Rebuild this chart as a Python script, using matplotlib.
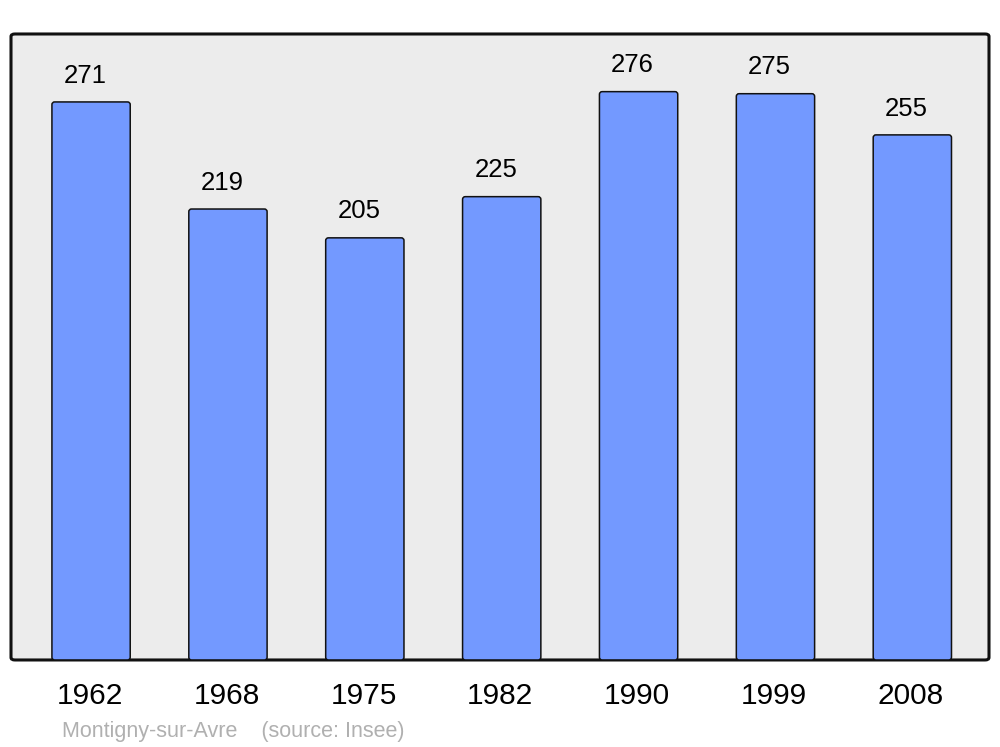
import matplotlib.pyplot as plt
from matplotlib.patches import FancyBboxPatch

years = ["1962", "1968", "1975", "1982", "1990", "1999", "2008"]
population = [271, 219, 205, 225, 276, 275, 255]

plt.rcParams['font.family'] = ['Liberation Sans', 'DejaVu Sans']

fig = plt.figure(figsize=(10, 7.47), dpi=100)
ax = fig.add_axes([0.011, 0.1165, 0.978, 0.838])
ax.set_xlim(-0.585, 6.56)
ax.set_ylim(0, 304)
ax.axis('off')

# rounded frame with light grey background
frame = FancyBboxPatch((0, 0), 1, 1, boxstyle="round,pad=0,rounding_size=0.004",
                       transform=ax.transAxes, facecolor='#ececec',
                       edgecolor='#111111', linewidth=2.2, zorder=0, clip_on=False)
ax.add_patch(frame)

x = range(len(years))
bars = ax.bar(x, population, width=0.572, color='#7399ff', edgecolor='#111111',
              linewidth=1.1, zorder=2)
# swap plain rectangles for slightly rounded ones
for b in bars:
    rb = FancyBboxPatch((b.get_x(), b.get_y()), b.get_width(), b.get_height(),
                        boxstyle="round,pad=0,rounding_size=0.02", mutation_aspect=66,
                        facecolor='#7399ff', edgecolor='#111111', linewidth=1.1, zorder=2)
    ax.add_patch(rb)
    b.set_visible(False)

for xi, v in zip(x, population):
    ax.text(xi - 0.044, v + 12.8, str(v), ha='center', va='center', fontsize=18.5, color='black')

for xi, y in zip(x, years):
    ax.text(xi - 0.01, -17.5, y, ha='center', va='center', fontsize=21.5, color='black', clip_on=False)

fig.text(0.062, 0.021, "Montigny-sur-Avre    (source: Insee)", fontsize=15.5,
         color='#b0b0b0', ha='left', va='center')

fig.savefig("out.png", dpi=100)
